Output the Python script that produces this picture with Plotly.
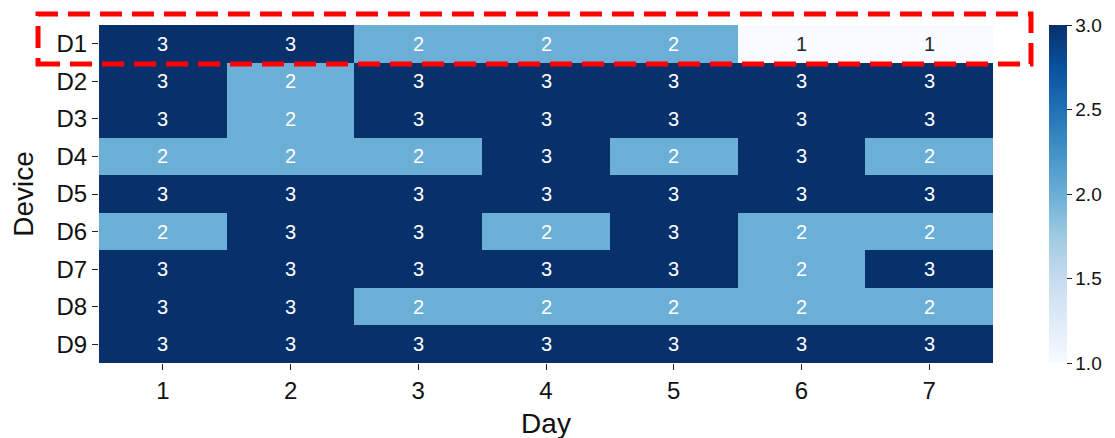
import plotly.graph_objects as go

days = ["1", "2", "3", "4", "5", "6", "7"]
devices = ["D1", "D2", "D3", "D4", "D5", "D6", "D7", "D8", "D9"]
values = [
    [3, 3, 2, 2, 2, 1, 1],
    [3, 2, 3, 3, 3, 3, 3],
    [3, 2, 3, 3, 3, 3, 3],
    [2, 2, 2, 3, 2, 3, 2],
    [3, 3, 3, 3, 3, 3, 3],
    [2, 3, 3, 2, 3, 2, 2],
    [3, 3, 3, 3, 3, 2, 3],
    [3, 3, 2, 2, 2, 2, 2],
    [3, 3, 3, 3, 3, 3, 3],
]
colorbar_ticks = [1.0, 1.5, 2.0, 2.5, 3.0]

blues = ["#f7fbff", "#deebf7", "#c6dbef", "#9ecae1", "#6baed6",
         "#4292c6", "#2171b5", "#08519c", "#08306b"]
colorscale = [[i / (len(blues) - 1), c] for i, c in enumerate(blues)]

FONT = "Liberation Sans, Arial, sans-serif"

fig = go.Figure(go.Heatmap(
    z=values, x=days, y=devices, zmin=1, zmax=3,
    colorscale=colorscale, xgap=0, ygap=0,
    colorbar=dict(
        thickness=18, len=1.0, lenmode="fraction", y=0, yanchor="bottom",
        x=1.0626, xanchor="left", outlinewidth=0, xpad=0, ypad=0,
        tickvals=colorbar_ticks, ticktext=[f"{t:.1f}" for t in colorbar_ticks],
        ticks="outside", ticklen=5, tickwidth=1.2, tickcolor="#222",
        tickfont=dict(size=19, color="#111", family=FONT),
    ),
    hoverinfo="x+y+z",
))

annotations = []
for r, dev in enumerate(devices):
    for c, day in enumerate(days):
        v = values[r][c]
        annotations.append(dict(
            x=c, y=r, xref="x", yref="y", text=str(v), showarrow=False,
            font=dict(size=20, family=FONT,
                      color="#262626" if v < 1.5 else "#ffffff"),
        ))

fig.update_layout(
    width=1115, height=438,
    margin=dict(l=91, r=130, t=17, b=83, autoexpand=False),
    paper_bgcolor="white", plot_bgcolor="white",
    font=dict(family=FONT, color="#111"),
    annotations=annotations,
    xaxis=dict(
        type="category",
        title=dict(text="Day", font=dict(size=28), standoff=10),
        ticks="outside", ticklen=6, tickwidth=1.2, tickcolor="#222",
        tickfont=dict(size=24), showgrid=False, zeroline=False,
        showline=False, automargin=False,
    ),
    yaxis=dict(
        type="category",
        title=dict(text="Device", font=dict(size=28), standoff=14),
        autorange="reversed",
        ticks="outside", ticklen=6, tickwidth=1.2, tickcolor="#222",
        tickfont=dict(size=24), showgrid=False, zeroline=False,
        showline=False, automargin=False,
    ),
    shapes=[dict(
        type="rect", xref="paper", yref="paper",
        x0=-0.0682, x1=1.0425, y0=0.8846, y1=1.0325,
        line=dict(color="red", width=5, dash="22px,10px"),
        fillcolor="rgba(0,0,0,0)", layer="above",
    )],
)

fig.write_html("out.html")
